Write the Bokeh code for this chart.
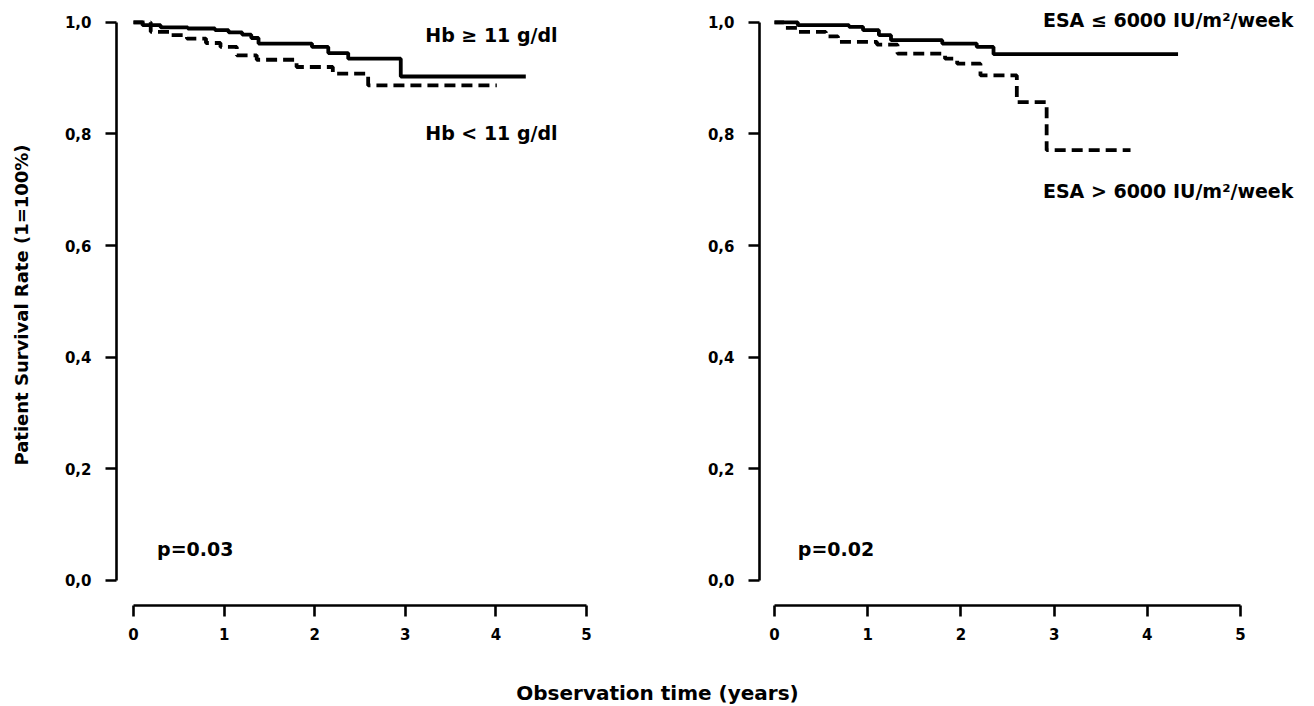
from bokeh.plotting import figure
from bokeh.layouts import column, row
from bokeh.models import Range1d, FixedTicker, CustomJSTickFormatter
from bokeh.core.properties import value
from bokeh.embed import file_html
from bokeh.resources import INLINE

# Kaplan-Meier step data (time in years, survival fraction)
hb_high_t = [0.0, 0.10, 0.30, 0.60, 0.90, 1.05, 1.20, 1.30, 1.38, 1.97, 2.15, 2.37, 2.95]
hb_high_s = [1.000, 0.995, 0.991, 0.989, 0.986, 0.982, 0.978, 0.972, 0.962, 0.956, 0.945, 0.935, 0.903]
hb_high_end = 4.33

hb_low_t = [0.0, 0.19, 0.40, 0.59, 0.80, 0.96, 1.14, 1.36, 1.80, 2.20, 2.59]
hb_low_s = [1.000, 0.983, 0.977, 0.971, 0.963, 0.956, 0.941, 0.933, 0.920, 0.908, 0.887]
hb_low_end = 4.01

esa_low_t = [0.0, 0.25, 0.80, 0.95, 1.12, 1.25, 1.80, 2.17, 2.35]
esa_low_s = [1.000, 0.995, 0.992, 0.986, 0.977, 0.968, 0.962, 0.956, 0.943]
esa_low_end = 4.33

esa_high_t = [0.0, 0.10, 0.25, 0.55, 0.68, 1.10, 1.32, 1.83, 1.96, 2.21, 2.60, 2.92]
esa_high_s = [1.000, 0.990, 0.983, 0.975, 0.965, 0.960, 0.944, 0.935, 0.926, 0.905, 0.857, 0.771]
esa_high_end = 3.82

y_ticks = [0.0, 0.2, 0.4, 0.6, 0.8, 1.0]
x_ticks = [0, 1, 2, 3, 4, 5]

FONT = "DejaVu Sans"
comma_fmt = CustomJSTickFormatter(code="return tick.toFixed(1).replace('.', ',');")


def style_axes(p):
    for ax in (p.xaxis[0], p.yaxis[0]):
        ax.axis_line_width = 2.6
        ax.axis_line_color = "black"
        ax.major_tick_line_width = 2.6
        ax.major_tick_line_color = "black"
        ax.major_tick_in = 0
        ax.major_tick_out = 11
        ax.minor_tick_line_color = None
        ax.major_label_text_font = FONT
        ax.major_label_text_font_style = "bold"
        ax.major_label_text_font_size = "15px"
        ax.major_label_text_color = "black"
    p.xaxis[0].ticker = FixedTicker(ticks=x_ticks)
    p.xaxis[0].bounds = (0, 5)
    p.xaxis[0].major_label_standoff = 11
    p.yaxis[0].ticker = FixedTicker(ticks=y_ticks)
    p.yaxis[0].bounds = (0, 1)
    p.yaxis[0].formatter = comma_fmt
    p.yaxis[0].major_label_standoff = 14
    p.xgrid.grid_line_color = None
    p.ygrid.grid_line_color = None
    p.outline_line_color = None


def km(p, t, s, end, dashed):
    xs = list(t) + [end]
    ys = list(s) + [s[-1]]
    kw = dict(line_color="black", line_width=3.8, mode="after")
    if dashed:
        kw["line_dash"] = "11 6"
    p.step(xs, ys, **kw)


def note(p, x, y, txt):
    p.text([x], [y], text=[txt], text_font=value(FONT), text_font_style="bold",
           text_font_size="19px", text_color="black",
           text_baseline="middle", text_align="left")


Y0, Y1 = -0.0448, 1.032
ROW_H = 665

# Left panel: haemoglobin groups
p1 = figure(width=680, height=ROW_H, output_backend="svg", toolbar_location=None,
            x_range=Range1d((116 - 133) / 90.6, (620 - 133) / 90.6),
            y_range=Range1d(Y0, Y1),
            min_border_left=116, min_border_right=60, min_border_top=4, min_border_bottom=60)
style_axes(p1)
p1.yaxis[0].axis_label = "Patient Survival Rate (1=100%)"
p1.yaxis[0].axis_label_text_font = FONT
p1.yaxis[0].axis_label_text_font_style = "bold"
p1.yaxis[0].axis_label_text_font_size = "18px"
p1.yaxis[0].axis_label_text_color = "black"
p1.yaxis[0].axis_label_standoff = 30
km(p1, hb_high_t, hb_high_s, hb_high_end, False)
km(p1, hb_low_t, hb_low_s, hb_low_end, True)
note(p1, 3.22, 0.977, "Hb \u2265 11 g/dl")
note(p1, 3.22, 0.801, "Hb < 11 g/dl")
note(p1, 0.26, 0.057, "p=0.03")

# Right panel: ESA dose groups
p2 = figure(width=634, height=ROW_H, output_backend="svg", toolbar_location=None,
            x_range=Range1d((759 - 774) / 93.2, (1312 - 774) / 93.2),
            y_range=Range1d(Y0, Y1),
            min_border_left=79, min_border_right=2, min_border_top=4, min_border_bottom=60)
style_axes(p2)
km(p2, esa_low_t, esa_low_s, esa_low_end, False)
km(p2, esa_high_t, esa_high_s, esa_high_end, True)
note(p2, 2.88, 1.004, "ESA \u2264 6000 IU/m\u00b2/week")
note(p2, 2.88, 0.697, "ESA > 6000 IU/m\u00b2/week")
note(p2, 0.25, 0.057, "p=0.02")

# Shared x-axis title
p3 = figure(width=1314, height=706 - ROW_H, output_backend="svg", toolbar_location=None,
            x_range=Range1d(0, 1314), y_range=Range1d(0, 706 - ROW_H),
            min_border=0)
p3.axis.visible = False
p3.xgrid.grid_line_color = None
p3.ygrid.grid_line_color = None
p3.outline_line_color = None
p3.text([657], [706 - ROW_H - 27], text=["Observation time (years)"],
        text_font=value(FONT), text_font_style="bold", text_font_size="20px",
        text_color="black", text_align="center", text_baseline="middle")

layout = column(row(p1, p2), p3)
open("out.html", "w").write(file_html(layout, INLINE))
